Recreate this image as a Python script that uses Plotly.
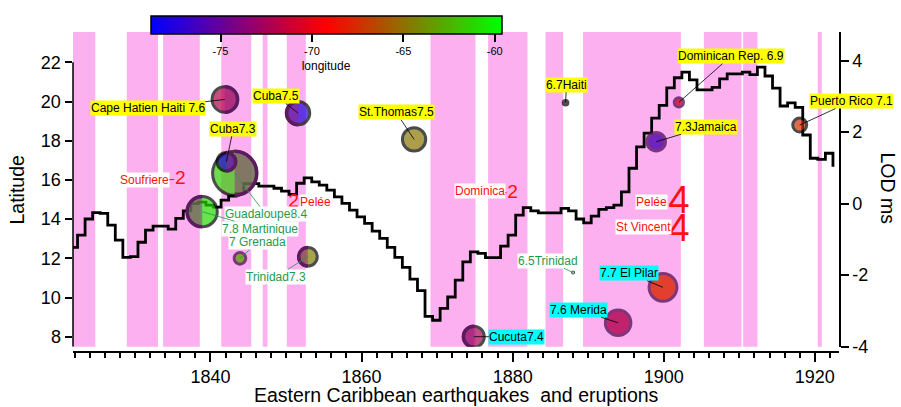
import numpy as np
import plotly.graph_objects as go

FONT = "Liberation Sans, Arial, Helvetica, sans-serif"

# ---------------- Length of day (ms), annual values ----------------
lod_year = np.arange(1822, 1924)
lod_ms = [-1.22, -0.88, -0.43, -0.25, -0.27, -0.60, -1.02, -1.50, -1.48, -1.08,
          -0.74, -0.63, -0.63, -0.71, -0.41, -0.20, 0.00, 0.04, -0.04, -0.10,
          0.10, 0.21, 0.29, 0.56, 0.56, 0.49, 0.49, 0.43, 0.35, 0.26,
          0.57, 0.72, 0.61, 0.52, 0.38, 0.19, 0.01, -0.18, -0.37, -0.55,
          -0.77, -0.97, -1.22, -1.50, -1.78, -2.11, -2.43, -3.15, -3.26, -2.93,
          -2.61, -2.14, -1.63, -1.35, -1.39, -1.51, -1.51, -1.19, -0.88, -0.32,
          -0.11, -0.20, -0.26, -0.26, -0.26, -0.13, -0.20, -0.43, -0.54, -0.35,
          -0.16, -0.11, -0.04, 0.33, 0.99, 1.59, 1.97, 2.39, 2.75, 3.24,
          3.52, 3.68, 3.46, 3.18, 3.18, 3.25, 3.49, 3.63, 3.63, 3.68,
          3.61, 3.82, 3.57, 3.23, 2.73, 2.82, 2.69, 1.92, 1.27, 1.24,
          1.41, 1.03]

# ---------------- Shaded periods ----------------
band_start = [1821.8, 1828.92, 1833.73, 1841.43, 1846.92, 1850.10, 1869.12,
              1876.75, 1884.35, 1889.32, 1905.31, 1910.51, 1920.39]
band_end = [1824.75, 1833.06, 1838.58, 1845.40, 1847.55, 1852.62, 1875.08,
            1881.96, 1886.68, 1902.26, 1910.29, 1912.41, 1920.92]

# ---------------- Earthquakes ----------------
quake_label = ["Cape Hatien Haiti 7.6", "Cuba7.5", "Guadaloupe8.4", "Cuba7.3",
               "7.8 Martinique", "7 Grenada", "Trinidad7.3", "St.Thomas7.5",
               "Cucuta7.4", "6.7Haiti", "6.5Trinidad", "7.6 Merida",
               "7.7 El Pilar", "7.3Jamaica", "Dominican Rep. 6.9", "Puerto Rico 7.1"]
quake_year = [1841.9, 1851.6, 1843.2, 1842.1, 1838.9, 1843.9, 1852.9, 1866.95,
              1874.86, 1887.0, 1888.0, 1893.96, 1899.9, 1899.0, 1902.0, 1918.0]
quake_lat = [20.11, 19.41, 16.34, 16.93, 14.38, 12.0, 12.08, 18.07,
             8.0, 19.94, 11.27, 8.71, 10.52, 17.95, 19.96, 18.8]
quake_mag = [7.6, 7.5, 8.4, 7.3, 7.8, 7.0, 7.3, 7.5,
             7.4, 6.7, 6.5, 7.6, 7.7, 7.3, 6.9, 7.1]
quake_lon = [-72.0, -77.5, -61.5, -77.5, -61.0, -63.0, -64.5, -64.8,
             -72.5, -72.5, -61.5, -72.2, -67.9, -75.9, -70.5, -67.5]

# ---------------- Eruptions (VEI) ----------------
erupt_name = ["Soufriere", "Pelée", "Dominica", "Pelée", "St Vincent"]
erupt_year = [1836.0, 1851.0, 1880.0, 1902.0, 1902.0]
erupt_lat = [16.03, 14.87, 15.32, 14.78, 13.35]
erupt_vei = [2, 2, 2, 4, 4]

# ---------------- Styling ----------------
# ring: "A" black ring, "L"/"R" black ring with a shaded half, "B" purple ring
quake_ring = ["R", "L", "R", "R", "L", "B", "L", "A",
              "L", "A", "A", "B", "B", "B", "B", "A"]
quake_tag = ["yellow", "yellow", "green", "yellow", "green", "green", "green", "yellow",
             "cyan", "yellow", "green", "cyan", "cyan", "yellow", "yellow", "yellow"]
quake_label_offset = [(-77, 9), (-22, -17), (31, 41), (7, -33), (58, 17), (18, -16),
                      (-32, 20), (-18, -27), (43, 0), (1, -18), (-25, -12), (-40, -13),
                      (-34, -14), (50, -15), (52, -46), (52, -24)]
erupt_label_offset = [(-36, 1), (22, 0), (-33, -2), (-27, -2), (-35, -5)]
erupt_leader = [True, False, True, False, False]

TAG_BG = {"yellow": "#ffff00", "cyan": "#00ffff", "green": "white"}
TAG_FG = {"yellow": "black", "cyan": "black", "green": "#1f9a4c"}
TAG_LINE = {"yellow": "black", "cyan": "black", "green": "#1f9a4c"}
PINK = "rgb(253,176,239)"
PURPLE_RING = "rgb(92,26,96)"
HALF_FILL = "rgba(150,40,130,0.5)"
RED = "#ff1010"

X_RANGE = [1821.8, 1923.2]
LAT_RANGE = [7.49, 23.55]
LOD_RANGE = [-4.0, 4.80]
Y_DOMAIN = [0.0166, 1.0]
TITLE_SIZE = 19.5


def diameter(mag):
    return 23.2 * (mag - 6.37)


def half_disc(r, side):
    s = 1 if side == "R" else -1
    k = 0.5523 * r
    return (f"M0,{-r:.2f} C{s * k:.2f},{-r:.2f} {s * r:.2f},{-k:.2f} {s * r:.2f},0 "
            f"C{s * r:.2f},{k:.2f} {s * k:.2f},{r:.2f} 0,{r:.2f}")


fig = go.Figure()

# LOD step curve on the base (right-hand) axis
fig.add_trace(go.Scatter(
    x=lod_year - 0.6, y=lod_ms, mode="lines", yaxis="y",
    line=dict(color="black", width=2.8, shape="hv"),
    hoverinfo="skip", showlegend=False))

# earthquakes with a black ring
ia = [i for i, r in enumerate(quake_ring) if r != "B"]
fig.add_trace(go.Scatter(
    x=[quake_year[i] for i in ia], y=[quake_lat[i] for i in ia], yaxis="y2",
    mode="markers",
    marker=dict(size=[max(diameter(quake_mag[i]) - 3, 1) for i in ia],
                color=[quake_lon[i] for i in ia], coloraxis="coloraxis",
                line=dict(color="black", width=3)),
    hoverinfo="skip", showlegend=False))

# earthquakes with a purple ring
ib = [i for i, r in enumerate(quake_ring) if r == "B"]
fig.add_trace(go.Scatter(
    x=[quake_year[i] for i in ib], y=[quake_lat[i] for i in ib], yaxis="y2",
    mode="markers",
    marker=dict(size=[max(diameter(quake_mag[i]) - 3, 1) for i in ib],
                color=[quake_lon[i] for i in ib], coloraxis="coloraxis",
                opacity=0.8, line=dict(color=PURPLE_RING, width=3)),
    hoverinfo="skip", showlegend=False))

# eruptions drawn as their VEI digit
fig.add_trace(go.Scatter(
    x=erupt_year, y=erupt_lat, yaxis="y2", mode="text",
    text=[str(v) for v in erupt_vei], textposition="middle center",
    textfont=dict(size=[9.6 * v for v in erupt_vei], color=RED, family=FONT),
    hoverinfo="skip", showlegend=False))

shapes = []
for s, e in zip(band_start, band_end):
    shapes.append(dict(type="rect", xref="x", yref="y domain", x0=s, x1=e, y0=0, y1=1,
                       fillcolor=PINK, line=dict(width=0), layer="below"))

# shaded half of the two-tone earthquake symbols
for i, ring in enumerate(quake_ring):
    if ring in ("L", "R"):
        r = diameter(quake_mag[i]) / 2 - 1.5
        shapes.append(dict(type="path", xref="x", yref="y2",
                           xsizemode="pixel", ysizemode="pixel",
                           xanchor=quake_year[i], yanchor=quake_lat[i],
                           path=half_disc(r, ring), fillcolor=HALF_FILL,
                           line=dict(color=PURPLE_RING, width=3.5), layer="above"))

# latitude axis line (stops at 22)
shapes.append(dict(type="line", xref="x domain", x0=0, x1=0, yref="y2",
                   y0=LAT_RANGE[0], y1=22, line=dict(color="black", width=1.5)))

annotations = []
for i, lab in enumerate(quake_label):
    dx, dy = quake_label_offset[i]
    tag = quake_tag[i]
    annotations.append(dict(
        x=quake_year[i], y=quake_lat[i], xref="x", yref="y2", text=lab,
        showarrow=True, ax=dx, ay=dy, arrowhead=0, arrowwidth=0.8,
        arrowcolor=TAG_LINE[tag], standoff=0,
        font=dict(size=12, color=TAG_FG[tag], family=FONT),
        bgcolor=TAG_BG[tag], borderpad=0))

for i, lab in enumerate(erupt_name):
    dx, dy = erupt_label_offset[i]
    if erupt_leader[i]:
        annotations.append(dict(
            x=erupt_year[i], y=erupt_lat[i], xref="x", yref="y2", text=lab,
            showarrow=True, ax=dx, ay=dy, arrowhead=0, arrowwidth=1,
            arrowcolor=RED, standoff=6,
            font=dict(size=12, color=RED, family=FONT), bgcolor="white", borderpad=0))
    else:
        annotations.append(dict(
            x=erupt_year[i], y=erupt_lat[i], xref="x", yref="y2", text=lab,
            showarrow=False, xshift=dx, yshift=-dy,
            font=dict(size=12, color=RED, family=FONT), bgcolor="white", borderpad=0))

# axis titles
annotations.append(dict(x=0.5, y=-0.134, xref="paper", yref="paper",
                        text="Eastern Caribbean earthquakes  and eruptions",
                        showarrow=False, font=dict(size=TITLE_SIZE, family=FONT),
                        xanchor="center", yanchor="middle"))
annotations.append(dict(x=-0.0725, y=0.506, xref="paper", yref="paper", text="Latitude",
                        showarrow=False, textangle=-90, font=dict(size=TITLE_SIZE, family=FONT),
                        xanchor="center", yanchor="middle"))
annotations.append(dict(x=1.0634, y=0.5125, xref="paper", yref="paper", text="LOD ms",
                        showarrow=False, textangle=90, font=dict(size=TITLE_SIZE, family=FONT),
                        xanchor="center", yanchor="middle"))

fig.update_layout(
    width=901, height=407,
    margin=dict(l=73, r=62, t=32, b=55),
    paper_bgcolor="white", plot_bgcolor="rgba(0,0,0,0)",
    font=dict(family=FONT, color="black"),
    showlegend=False,
    shapes=shapes, annotations=annotations,
    xaxis=dict(range=X_RANGE, anchor="free", position=0,
               showline=True, linecolor="black", linewidth=1.5,
               ticks="outside", ticklen=9, tickwidth=1.5, tickcolor="black",
               tick0=1840, dtick=20, tickfont=dict(size=18),
               showgrid=False, zeroline=False,
               minor=dict(tick0=1822, dtick=2, ticks="outside", ticklen=5,
                          tickwidth=1.5, tickcolor="black", showgrid=False)),
    yaxis=dict(domain=Y_DOMAIN, range=LOD_RANGE, side="right", anchor="x",
               showline=True, linecolor="black", linewidth=1.5,
               ticks="outside", ticklen=8, tickwidth=1.5, tickcolor="black",
               tickvals=[-4, -2, 0, 2, 4], ticktext=["-4", "-2", "0", "2", "4"],
               tickfont=dict(size=18), showgrid=False, zeroline=False),
    yaxis2=dict(overlaying="y", side="left", anchor="x", range=LAT_RANGE,
                showline=False, ticks="outside", ticklen=7.5, tickwidth=1.5,
                tickcolor="black", tick0=8, dtick=2, tickfont=dict(size=18),
                showgrid=False, zeroline=False),
    coloraxis=dict(
        colorscale=[[0, "rgb(0,0,255)"], [0.5, "rgb(255,0,0)"], [1, "rgb(0,255,0)"]],
        cmin=-78.83, cmax=-59.63,
        colorbar=dict(orientation="h", x=0.3303, xanchor="center",
                      y=1.051, yanchor="top", len=351, lenmode="pixels",
                      thickness=17.6, thicknessmode="pixels",
                      outlinewidth=1.5, outlinecolor="black",
                      ticks="outside", ticklen=8, tickwidth=1.5, tickcolor="black",
                      tickvals=[-75, -70, -65, -60], ticktext=["-75", "-70", "-65", "-60"],
                      tickfont=dict(size=11), xpad=0, ypad=0,
                      title=dict(text="longitude", side="bottom", font=dict(size=12)))),
)

fig.write_html("out.html")
